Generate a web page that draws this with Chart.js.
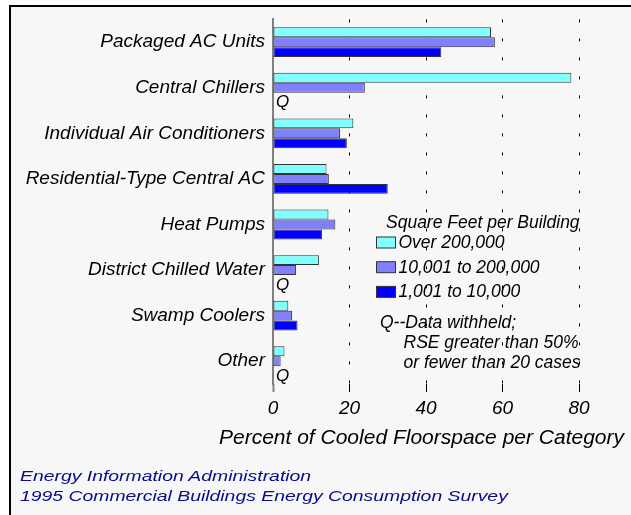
<!DOCTYPE html>
<html>
<head>
<meta charset="utf-8">
<title>Cooled Floorspace by Equipment</title>
<script src="https://cdn.jsdelivr.net/npm/chart.js@4/dist/chart.umd.min.js"></script>
<style>
  body { margin: 0; width: 631px; height: 515px; overflow: hidden; background: #fff; position: relative;
         font-family: "Liberation Sans", Arial, sans-serif; }
  #frame { position: absolute; left: 9px; top: 5px; right: -10px; bottom: -10px;
           border-top: 2px solid #000; border-left: 2px solid #000; background: #f7f7f7; }
  #chart { position: absolute; left: 0; top: 0; }
  .src { position: absolute; left: 20px; font-style: italic; font-size: 15.5px; line-height: 19px;
         color: #0a0a8c; white-space: nowrap; transform: scaleX(1.25); transform-origin: 0 0; }
</style>
</head>
<body>
<div id="frame"></div>
<canvas id="chart" width="631" height="515"></canvas>
<div class="src" style="top:466px">Energy Information Administration</div>
<div class="src" style="top:485.5px">1995 Commercial Buildings Energy Consumption Survey</div>
<script>
(function () {
	"use strict";

	// categories, top to bottom
	var categories = [
		"Packaged AC Units",
		"Central Chillers",
		"Individual Air Conditioners",
		"Residential-Type Central AC",
		"Heat Pumps",
		"District Chilled Water",
		"Swamp Coolers",
		"Other",
	];
	var seriesNames = ["Over 200,000", "10,001 to 200,000", "1,001 to 10,000"];
	// percent of cooled floorspace, null = Q (withheld)
	var over200k = [57, 78, 21, 14, 14.5, 12, 4, 3];
	var mid = [58, 24, 17.5, 14.6, 16.3, 6, 5, 2];
	var small = [44, null, 19.3, 30, 12.8, null, 6.4, null];
	var xTicks = [0, 20, 40, 60, 80];
	var xTitle = "Percent of Cooled Floorspace per Category";
	var legendTitle = "Square Feet per Building";
	var noteLines = ["Q--Data withheld;", "RSE greater than 50%", "or fewer than 20 cases"];

	var FONT = '"Liberation Sans", Arial, sans-serif';

	// legend, footnote, axis title and Q markers
	var notes = {
		id: "notes",
		beforeDraw: function (chart) {
			var ctx = chart.ctx;
			ctx.save();
			ctx.font = "italic 17.5px " + FONT;
			ctx.textBaseline = "middle";
			ctx.textAlign = "left";
			ctx.fillStyle = "#000";
			ctx.fillText(legendTitle, 386, 223);
			chart.data.datasets.forEach(function (ds, i) {
				var y = 242.5 + i * 24.7;
				ctx.fillStyle = ds.backgroundColor;
				ctx.fillRect(376.5, y - 5.5, 19, 11);
				ctx.strokeStyle = "#333";
				ctx.lineWidth = 1;
				ctx.strokeRect(376.5, y - 5.5, 19, 11);
				ctx.fillStyle = "#000";
				ctx.fillText(ds.label, 398.5, y + 0.5);
			});
			ctx.fillText(noteLines[0], 380, 323.5);
			ctx.fillText(noteLines[1], 403.5, 343.5);
			ctx.fillText(noteLines[2], 403.5, 363.5);
			ctx.restore();
		},
		afterDatasetsDraw: function (chart) {
			var ctx = chart.ctx;
			ctx.save();
			ctx.font = "italic 17px " + FONT;
			ctx.textBaseline = "middle";
			ctx.textAlign = "left";
			ctx.fillStyle = "#000";
			chart.data.datasets.forEach(function (ds, d) {
				var meta = chart.getDatasetMeta(d);
				ds.data.forEach(function (v, i) {
					if (v === null) {
						var el = meta.data[i];
						ctx.fillText("Q", el.base + 3, el.y + 5);
					}
				});
			});
			ctx.restore();
		},
		afterDraw: function (chart) {
			var ctx = chart.ctx;
			var xs = chart.scales.x;
			ctx.save();
			ctx.font = "italic 21px " + FONT;
			ctx.textBaseline = "middle";
			ctx.textAlign = "center";
			ctx.fillStyle = "#000";
			ctx.fillText(xTitle, xs.right - 157.5, xs.top + 54.5);
			ctx.restore();
		},
	};

	var ctx = document.getElementById("chart").getContext("2d");
	var chart = new Chart(ctx, {
		type: "bar",
		data: {
			labels: categories,
			datasets: [
				{ label: seriesNames[0], data: over200k, backgroundColor: "#80ffff" },
				{ label: seriesNames[1], data: mid, backgroundColor: "#8080ff" },
				{ label: seriesNames[2], data: small, backgroundColor: "#0000ff" },
			],
		},
		options: {
			indexAxis: "y",
			responsive: false,
			animation: false,
			layout: { padding: { top: 18, right: 52, left: 0, bottom: 64 } },
			datasets: {
				bar: {
					categoryPercentage: 0.654,
					barPercentage: 1.0,
					borderWidth: 1,
					borderColor: "#333",
					borderSkipped: false,
				},
			},
			plugins: {
				legend: { display: false },
				tooltip: { enabled: false },
			},
			scales: {
				x: {
					min: 0,
					max: 80,
					afterBuildTicks: function (scale) {
						scale.ticks = xTicks.map(function (v) { return { value: v }; });
					},
					afterFit: function (scale) {
						scale.height = 67;
					},
					border: { display: false, dash: [3, 16] },
					grid: {
						color: function (c) { return c.tick && c.tick.value === 0 ? "rgba(0,0,0,0)" : "#000"; },
						tickColor: function (c) { return c.tick && c.tick.value === 0 ? "#808080" : "#000"; },
						tickWidth: function (c) { return c.tick && c.tick.value === 0 ? 2 : 1; },
						tickBorderDash: [],
						tickLength: 8,
					},
					ticks: {
						padding: 5,
						color: "#000",
						font: { family: FONT, size: 19, style: "italic" },
					},
				},
				y: {
					afterFit: function (scale) {
						scale.width = 273;
					},
					grid: { display: false, drawTicks: false },
					border: { display: true, color: "#808080", width: 2 },
					ticks: {
						padding: 8,
						color: "#000",
						font: { family: FONT, size: 19, style: "italic" },
					},
				},
			},
		},
		plugins: [notes],
	});
})();
</script>
</body>
</html>
